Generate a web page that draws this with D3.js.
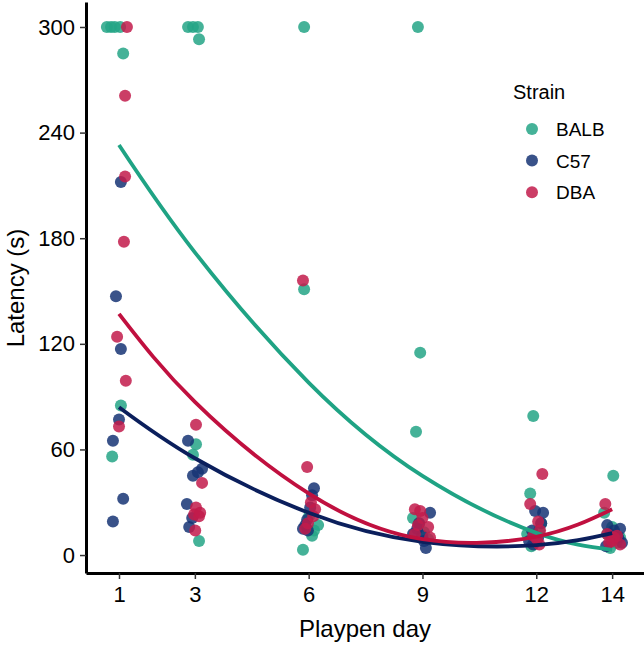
<!DOCTYPE html>
<html lang="en">
  <head>
    <meta charset="UTF-8">
    <title>Latency by playpen day</title>
    <style>
      body { margin: 0; background: #fff; }
      text { font-family: "Liberation Sans", Arial, sans-serif; fill: #000; }
    </style>
  </head>
  <body>
    <div id="chart"></div>
    <script src="https://d3js.org/d3.v7.js"></script>
    <script>
      // tick values
      var dayTicks = [1, 3, 6, 9, 12, 14];
      var latencyTicks = [0, 60, 120, 180, 240, 300];
      var strains = ["BALB", "C57", "DBA"];

      // points: nominal day, horizontal jitter (days) and latency (s)
      var balbDay     = [1, 1, 1, 1, 1, 1, 1,  3, 3, 3, 3, 3, 3, 3,  6, 6, 6, 6, 6, 6, 6,  9, 9, 9, 9, 9, 9, 9,  12, 12, 12, 12, 12, 12, 12,  14, 14, 14, 14, 14, 14, 14];
      var balbJitter  = [-0.32, -0.21, -0.11, 0.03, 0.11, 0.05, -0.18,  -0.18, -0.05, 0.08, 0.11, 0.03, -0.05, 0.11,  -0.12, -0.12, 0.25, 0.09, -0.15, 0.01, 0.14,  -0.12, -0.06, -0.17, 0.04, -0.09, 0.15, -0.25,  -0.08, -0.16, 0.13, -0.24, 0, -0.13, 0.08,  0.03, -0.21, 0, -0.05, 0.11, 0.21, -0.13];
      var balbLatency = [300, 300, 300, 300, 285, 85, 56,  300, 300, 300, 293, 63, 57, 8,  300, 151, 17, 11, 3, 22, 14,  300, 115, 70, 13, 18, 9, 21,  79, 35, 18, 12, 8, 5, 14,  45, 24, 16, 4, 7, 10, 12];

      var c57Day     = [1, 1, 1, 1, 1, 1, 1,  3, 3, 3, 3, 3, 3, 3,  6, 6, 6, 6, 6, 6, 6,  9, 9, 9, 9, 9, 9, 9,  12, 12, 12, 12, 12, 12, 12,  14, 14, 14, 14, 14, 14, 14];
      var c57Jitter  = [0.05, -0.08, 0.05, 0, -0.16, 0.11, -0.16,  -0.18, 0.19, -0.05, 0.08, -0.21, -0.07, -0.15,  0.14, 0.09, -0.04, -0.15, -0.02, 0.04, -0.09,  0.2, -0.14, -0.01, 0.09, -0.09, 0.04, -0.25,  -0.03, 0.18, -0.11, -0.08, 0.05, -0.19, 0.13,  -0.13, 0.05, 0.16, -0.05, 0.26, -0.16, 0.21];
      var c57Latency = [212, 147, 117, 77, 65, 32, 19,  65, 49, 45, 47, 29, 21, 16,  38, 34, 20, 15, 14, 27, 17,  24, 15, 11, 4, 18, 8, 12,  25, 24, 14, 6, 10, 8, 18,  17, 14, 10, 12, 7, 5, 15];

      var dbaDay     = [1, 1, 1, 1, 1, 1, 1,  3, 3, 3, 3, 3, 3, 3,  6, 6, 6, 6, 6, 6, 6,  9, 9, 9, 9, 9, 9, 9,  12, 12, 12, 12, 12, 12, 12,  14, 14, 14, 14, 14, 14, 14];
      var dbaJitter  = [0.21, 0.16, 0.16, 0.13, -0.05, 0.18, 0,  0.03, 0.19, 0.03, -0.02, 0.11, 0.01, 0.14,  -0.15, -0.04, 0.06, 0.17, -0.02, 0.12, -0.09,  -0.2, -0.06, 0, 0.15, -0.2, 0.2, -0.12,  0.16, -0.16, 0.05, 0.1, 0.02, 0.08, -0.08,  -0.18, -0.13, 0.13, 0, 0.21, 0.05, -0.08];
      var dbaLatency = [300, 261, 215, 178, 124, 99, 73,  74, 41, 27, 23, 22, 14, 24,  156, 50, 30, 26, 18, 22, 15,  26, 25, 21, 16, 12, 10, 17,  46, 29, 19, 14, 9, 6, 11,  29, 12, 11, 8, 6, 10, 7];

      // smooth fit lines at each day
      var fitDays  = [1, 3, 6, 9, 12, 14];
      var balbFit  = [233, 172, 98, 45, 12.6, 3];
      var c57Fit   = [84, 55, 24, 7.5, 5.6, 12.5];
      var dbaFit   = [137, 87, 35, 9, 10.4, 26];

      var pointColors = { BALB: "#25a586", C57: "#163474", DBA: "#c21b4b" };
      var lineColors  = { BALB: "#1fa384", C57: "#0b1f5c", DBA: "#c0103f" };

      var width = 644, height = 646;

      var svg = d3.select("#chart")
        .append("svg")
          .attr("width", width)
          .attr("height", height);

      var x = d3.scaleLinear()
          .domain([0.13, 14.84])
          .range([86, 644]);

      var y = d3.scaleLinear()
          .domain([-10.2, 314.2])
          .range([573, 2]);

      var series = [
        { name: "BALB", day: balbDay, jitter: balbJitter, latency: balbLatency, fit: balbFit },
        { name: "C57", day: c57Day, jitter: c57Jitter, latency: c57Latency, fit: c57Fit },
        { name: "DBA", day: dbaDay, jitter: dbaJitter, latency: dbaLatency, fit: dbaFit }
      ];

      // points
      series.forEach(function(s) {
        var pts = s.day.map(function(d, i) {
          return { x: d + s.jitter[i], y: s.latency[i] };
        });
        svg.append("g")
          .selectAll("circle")
          .data(pts)
          .enter()
          .append("circle")
            .attr("cx", function(d) { return x(d.x); })
            .attr("cy", function(d) { return y(d.y); })
            .attr("r", 6)
            .style("fill", pointColors[s.name])
            .style("fill-opacity", 0.85);
      });

      // fit lines
      var line = d3.line()
          .x(function(d) { return x(d[0]); })
          .y(function(d) { return y(d[1]); })
          .curve(d3.curveNatural);

      series.forEach(function(s) {
        svg.append("path")
          .datum(fitDays.map(function(d, i) { return [d, s.fit[i]]; }))
          .attr("d", line)
          .attr("fill", "none")
          .attr("stroke", lineColors[s.name])
          .attr("stroke-width", 3.8)
          .attr("stroke-linecap", "butt");
      });

      // axes
      var xAxis = svg.append("g")
        .attr("transform", "translate(0,573)")
        .call(d3.axisBottom(x).tickValues(dayTicks).tickSize(6).tickSizeOuter(0).tickPadding(7));

      var yAxis = svg.append("g")
        .attr("transform", "translate(86,0)")
        .call(d3.axisLeft(y).tickValues(latencyTicks).tickSize(6).tickSizeOuter(0).tickPadding(5));

      [xAxis, yAxis].forEach(function(a) {
        a.select(".domain").attr("stroke", "#000").attr("stroke-width", 3);
        a.selectAll(".tick line").attr("stroke", "#333").attr("stroke-width", 1.5);
        a.selectAll(".tick text")
          .style("font-family", '"Liberation Sans", Arial, sans-serif')
          .style("font-size", "22px")
          .attr("fill", "#000");
      });

      // axis titles
      svg.append("text")
        .attr("x", 365)
        .attr("y", 637)
        .attr("text-anchor", "middle")
        .style("font-size", "24px")
        .text("Playpen day");

      svg.append("text")
        .attr("transform", "translate(24,288) rotate(-90)")
        .attr("text-anchor", "middle")
        .style("font-size", "24px")
        .text("Latency (s)");

      // legend
      var legend = svg.append("g");
      legend.append("text")
        .attr("x", 513)
        .attr("y", 99)
        .style("font-size", "20px")
        .text("Strain");

      strains.forEach(function(name, i) {
        var cy = 129 + i * 31.6;
        legend.append("circle")
          .attr("cx", 532)
          .attr("cy", cy)
          .attr("r", 6)
          .style("fill", pointColors[name])
          .style("fill-opacity", 0.85);
        legend.append("text")
          .attr("x", 556)
          .attr("y", cy + 7)
          .style("font-size", "19px")
          .text(name);
      });
    </script>
  </body>
</html>
